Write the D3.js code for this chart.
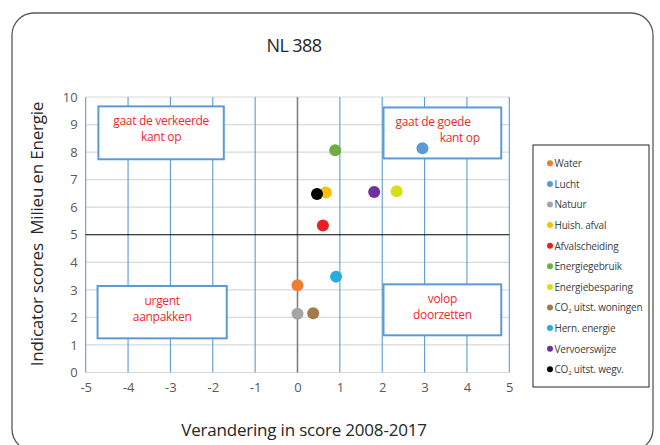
<!DOCTYPE html>
<html><head><meta charset="utf-8">
<script src="https://cdn.jsdelivr.net/npm/d3@7"></script>
<style>
body{margin:0;background:#fff;}
svg{display:block;font-family:"Open Sans",sans-serif;}
</style></head><body>
<svg id="c" width="660" height="445"></svg>
<script>
const names = ["Water","Lucht","Natuur","Huish. afval","Afvalscheiding","Energiegebruik","Energiebesparing","CO2 uitst. woningen","Hern. energie","Vervoerswijze","CO2 uitst. wegv."];
const xValues = [0.0, 2.95, 0.0, 0.67, 0.6, 0.89, 2.34, 0.37, 0.91, 1.81, 0.46];
const yValues = [3.17, 8.14, 2.13, 6.53, 5.34, 8.07, 6.58, 2.15, 3.48, 6.55, 6.48];
const colors = ["#ed7d31","#5b9bd5","#a5a5a5","#ffc000","#ee1c25","#70ad47","#d9de1a","#a5794c","#29abe2","#7030a0","#000000"];
const xTicks = [-5,-4,-3,-2,-1,0,1,2,3,4,5];
const yTicks = [0,1,2,3,4,5,6,7,8,9,10];
const boxes = [
  {lines:["gaat de verkeerde","kant op"], x0:-4.7, x1:-1.74, y0:9.66, y1:7.74, tx:[0,0]},
  {lines:["gaat de goede","kant op"], x0:2.03, x1:4.81, y0:9.62, y1:7.77, tx:[-0.22,0.41]},
  {lines:["urgent","aanpakken"], x0:-4.72, x1:-1.67, y0:3.14, y1:1.24, tx:[0,0]},
  {lines:["volop","doorzetten"], x0:2.03, x1:4.81, y0:3.2, y1:1.35, tx:[0,0]}
];

const svg = d3.select("#c");
const x = d3.scaleLinear().domain([-5,5]).range([85.7,509.3]);
const y = d3.scaleLinear().domain([0,10]).range([372.5,97]);

// outer rounded border
svg.append("rect").attr("x",12).attr("y",13).attr("width",641).attr("height",438)
  .attr("rx",22).attr("fill","none").attr("stroke","#5a5a5a").attr("stroke-width",1.3);

// title
svg.append("text").attr("x",294).attr("y",52).attr("text-anchor","middle")
  .attr("font-size",18).attr("fill","#262626").attr("letter-spacing",-0.6).text("NL 388");

// horizontal gridlines
svg.append("g").selectAll("line").data(yTicks.filter(d=>d!==5)).join("line")
  .attr("x1",x(-5)).attr("x2",x(5)).attr("y1",d=>y(d)).attr("y2",d=>y(d))
  .attr("stroke","#d9d9d9").attr("stroke-width",1.2);
// vertical gridlines (blue)
svg.append("g").selectAll("line").data(xTicks.filter(d=>d!==0)).join("line")
  .attr("x1",d=>x(d)).attr("x2",d=>x(d)).attr("y1",y(0)).attr("y2",y(10))
  .attr("stroke","#5b9bd5").attr("stroke-width",1.1);
// zero axis
svg.append("line").attr("x1",x(0)).attr("x2",x(0)).attr("y1",y(0)).attr("y2",y(10))
  .attr("stroke","#7f7f7f").attr("stroke-width",1.6);
// y=5 black line
svg.append("line").attr("x1",x(-5)).attr("x2",x(5)).attr("y1",y(5)).attr("y2",y(5))
  .attr("stroke","#000").attr("stroke-width",1.2);

// axes labels via d3 axes
const xAxis = svg.append("g").attr("transform",`translate(0,${y(0)})`)
  .call(d3.axisBottom(x).tickValues(xTicks).tickSize(0).tickPadding(10).tickFormat(d=>String(d)));
xAxis.select(".domain").remove();
xAxis.selectAll("text").attr("font-size",13).attr("fill","#595959").attr("font-family","Open Sans");
const yAxis = svg.append("g").attr("transform",`translate(${x(-5)},0)`)
  .call(d3.axisLeft(y).tickValues(yTicks).tickSize(0).tickPadding(8).tickFormat(d=>String(d)));
yAxis.select(".domain").remove();
yAxis.selectAll("text").attr("font-size",13).attr("fill","#595959").attr("font-family","Open Sans");

// axis titles
svg.append("text").attr("transform","translate(43,234) rotate(-90)").attr("text-anchor","middle")
  .attr("font-size",17).attr("fill","#262626").attr("letter-spacing",-0.2)
  .attr("xml:space","preserve").text("Indicator scores  Milieu en Energie");
svg.append("text").attr("x",304).attr("y",436).attr("text-anchor","middle")
  .attr("font-size",17).attr("fill","#262626").attr("letter-spacing",-0.2)
  .text("Verandering in score 2008-2017");

// annotation boxes
const bg = svg.append("g").selectAll("g").data(boxes).join("g");
bg.append("rect").attr("x",d=>x(d.x0)).attr("y",d=>y(d.y0))
  .attr("width",d=>x(d.x1)-x(d.x0)).attr("height",d=>y(d.y1)-y(d.y0))
  .attr("fill","#fff").attr("stroke","#5b9bd5").attr("stroke-width",2);
bg.each(function(d){
  const g = d3.select(this);
  const cx = (x(d.x0)+x(d.x1))/2;
  const top = y(d.y0);
  d.lines.forEach((t,i)=>{
    g.append("text").attr("x",cx + d.tx[i]*42.36).attr("y",top+19+i*16)
      .attr("text-anchor","middle").attr("font-size",12).attr("fill","#f0282d")
      .attr("letter-spacing",-0.3).text(t);
  });
});

// points
svg.append("g").selectAll("circle").data(names.map((n,i)=>({n,x:xValues[i],y:yValues[i],c:colors[i]}))).join("circle")
  .attr("cx",d=>x(d.x)).attr("cy",d=>y(d.y)).attr("r",6).attr("fill",d=>d.c);

// legend
svg.append("rect").attr("x",533).attr("y",145).attr("width",116).attr("height",242)
  .attr("fill","#fff").attr("stroke","#262626").attr("stroke-width",1);
const lg = svg.append("g").selectAll("g").data(names).join("g")
  .attr("transform",(d,i)=>`translate(550,${163.3+i*20.6})`);
lg.append("circle").attr("r",3).attr("fill",(d,i)=>colors[i]);
lg.append("text").attr("x",4.5).attr("y",3.8).attr("font-size",10).attr("fill","#404040")
  .attr("letter-spacing",-0.2)
  .each(function(d){
    const t = d3.select(this);
    if(d.startsWith("CO2")){
      t.append("tspan").text("CO");
      t.append("tspan").attr("font-size",6).attr("dy",2).text("2");
      t.append("tspan").attr("dy",-2).text(d.slice(3));
    } else t.text(d);
  });
</script>
</body></html>
